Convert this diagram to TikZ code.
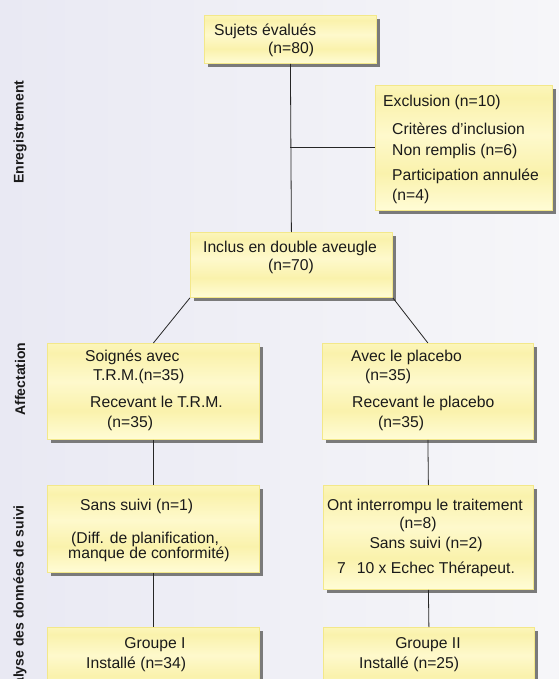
\documentclass[tikz,border=0pt]{standalone}
\usepackage{fontspec}
\setmainfont{Liberation Sans}
\usetikzlibrary{shadows}
\definecolor{bgl}{HTML}{E9E9F3}
\definecolor{bgr}{HTML}{F6F6F9}
\definecolor{ya}{HTML}{F5EA90}
\definecolor{yb}{HTML}{FFFCD6}
\definecolor{yc}{HTML}{FAF2AC}
\definecolor{yd}{HTML}{FEF9CC}
\definecolor{yedge}{HTML}{F3E88A}
\definecolor{txt}{HTML}{1A1A1A}
\pgfdeclareverticalshading{boxshade}{100bp}{color(0bp)=(ya); color(12bp)=(yc); color(25bp)=(yb); color(40bp)=(yc); color(55bp)=(yd); color(70bp)=(yc); color(85bp)=(yb); color(100bp)=(ya)}
\tikzset{
  box/.style={draw=yedge, line width=0.8pt, shading=boxshade, inner sep=0pt,
    drop shadow={shadow xshift=4pt, shadow yshift=-4pt, fill=black!52, opacity=1}},
  lbl/.style={text=txt, font=\fontsize{15.7}{18}\selectfont, inner sep=0pt},
  side/.style={text=txt, font=\fontsize{14}{17}\selectfont\bfseries, inner sep=0pt, rotate=90},
  link/.style={draw=black!85, line width=0.8pt}
}
\begin{document}
\begin{tikzpicture}[x=1pt,y=-1pt]
\useasboundingbox (0,0) rectangle (559,679);
\clip (0,0) rectangle (559,679);
\shade[left color=bgl, right color=bgr] (0,0) rectangle (559,679);
% boxes
\node[box, minimum width=172pt, minimum height=48pt, anchor=north west] (b1) at (204,15) {};
\node[box, minimum width=177pt, minimum height=125pt, anchor=north west] (b2) at (375,85) {};
\node[box, minimum width=202pt, minimum height=65pt, anchor=north west] (b3) at (190,232) {};
\node[box, minimum width=212pt, minimum height=96pt, anchor=north west] (b4) at (47,343) {};
\node[box, minimum width=211pt, minimum height=96pt, anchor=north west] (b5) at (322,343) {};
\node[box, minimum width=212pt, minimum height=87pt, anchor=north west] (b6) at (47,485) {};
\node[box, minimum width=210pt, minimum height=104pt, anchor=north west] (b7) at (323,485) {};
\node[box, minimum width=212pt, minimum height=70pt, anchor=north west] (b8) at (47,627) {};
\node[box, minimum width=211pt, minimum height=70pt, anchor=north west] (b9) at (323,627) {};
% connectors
\coordinate (j1) at (b1.south |- b2.west);
\draw[link] (b1.south) -- (b3.north);
\draw[link] (j1) -- (b2.west);
\draw[link] (b3.south west) -- (b4.north);
\draw[link] (b3.south east) -- (b5.north);
\draw[link] (b4.south) -- (b6.north);
\draw[link] (b5.south) -- (b7.north);
\draw[link] (b6.south) -- (b8.north);
\draw[link] (b7.south) -- (b9.north);
% texts
\node[lbl, anchor=base west] (t1a) at (214,36) {Sujets évalués};
\node[lbl, anchor=base west] (t1b) at (268,54) {(n=80)};
\node[lbl, anchor=base west] (t2a) at (383,107) {Exclusion (n=10)};
\node[lbl, anchor=base west] (t2b) at (392,135) {Critères d’inclusion};
\node[lbl, anchor=base west] (t2c) at (392,156) {Non remplis (n=6)};
\node[lbl, anchor=base west] (t2d) at (392,180) {Participation annulée};
\node[lbl, anchor=base west] (t2e) at (392,200) {(n=4)};
\node[lbl, anchor=base] (t3a) at (290,252) {Inclus en double aveugle};
\node[lbl, anchor=base] (t3b) at (291,270) {(n=70)};
\node[lbl, anchor=base west] (t4a) at (85,361) {Soignés avec};
\node[lbl, anchor=base west] (t4b) at (93,380) {T.R.M.(n=35)};
\node[lbl, anchor=base west] (t4c) at (90,407) {Recevant le T.R.M.};
\node[lbl, anchor=base west] (t4d) at (107,427) {(n=35)};
\node[lbl, anchor=base west] (t5a) at (351,361) {Avec le placebo};
\node[lbl, anchor=base west] (t5b) at (365,380) {(n=35)};
\node[lbl, anchor=base west] (t5c) at (352,407) {Recevant le placebo};
\node[lbl, anchor=base west] (t5d) at (378,427) {(n=35)};
\node[lbl, anchor=base west] (t6a) at (80,510) {Sans suivi (n=1)};
\node[lbl, anchor=base west] (t6b) at (71,543) {(Diff. de planification,};
\node[lbl, anchor=base west] (t6c) at (68,558) {manque de conformité)};
\node[lbl, anchor=base west] (t7a) at (327,510) {Ont interrompu le traitement};
\node[lbl, anchor=base] (t7b) at (418,528) {(n=8)};
\node[lbl, anchor=base] (t7c) at (426,548) {Sans suivi (n=2)};
\node[lbl, anchor=base west] (t7d) at (337,573) {7\hspace{11pt}10 x Echec Thérapeut.};
\node[lbl, anchor=base] (t8a) at (155,648) {Groupe I};
\node[lbl, anchor=base west] (t8b) at (86,668) {Installé (n=34)};
\node[lbl, anchor=base] (t9a) at (428,648) {Groupe II};
\node[lbl, anchor=base west] (t9b) at (359,668) {Installé (n=25)};
% side labels
\node[side] (s1) at (20,132) {Enregistrement};
\node[side] (s2) at (20,379) {Affectation};
\node[side, anchor=east] (s3) at (20,505) {Analyse des données de suivi};
\end{tikzpicture}
\end{document}
